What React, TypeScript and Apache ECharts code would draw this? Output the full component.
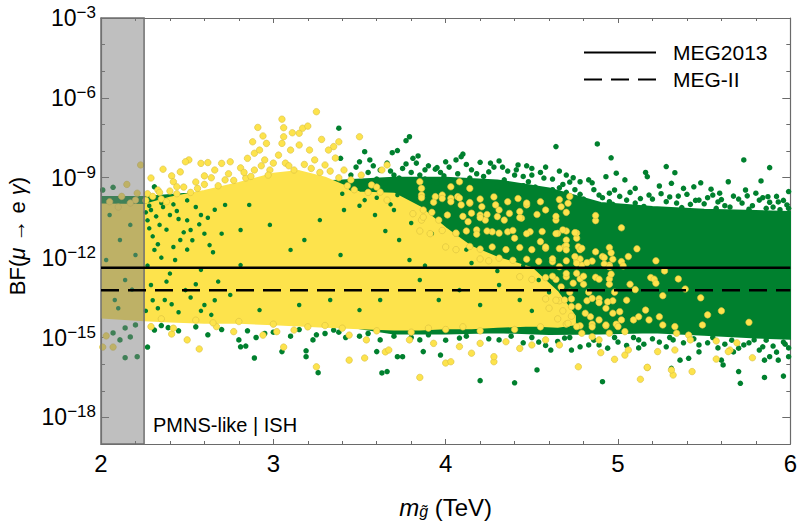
import React, { useEffect, useRef } from "react";
import * as echarts from "echarts";

const FONT = "'Liberation Sans', Arial, Helvetica, sans-serif";
const GREEN = "#00802e";
const YELLOW = "#fde34c";
const YELLOW_EDGE = "#d8c040";

// axes
const xMin = 2;
const xMax = 6;
const xStep = 1;
const yMinExp = -19;
const yMaxExp = -3;
const yMajorExps = [-18, -15, -12, -9, -6, -3];
const yMinorExps = [-19, -18, -17, -16, -15, -14, -13, -12, -11, -10, -9, -8, -7, -6, -5, -4, -3];

// excluded region and experimental limits
const bandX = [2, 2.25];
const meg2013Limit = 4.2e-13;
const megIILimit = 6e-14;
const panelLabel = "PMNS-like | ISH";
const yTitle = "{n|BF(}{i|\u03bc}{n| \u2192 e }{i|\u03b3}{n|)}";

// dense green core (log10 BF)
const greenCoreX = [2.0, 2.25, 2.5, 2.8, 3.1, 3.4, 3.7, 4.0, 4.3, 4.6, 4.9, 5.2, 5.5, 5.8, 6.0];
const greenCoreTop = [-9.72, -9.72, -9.6, -9.4, -9.2, -9.1, -9.0, -9.0, -9.1, -9.4, -9.95, -10.1, -10.2, -10.25, -10.29];
const greenCoreBottom = [-14.2, -14.2, -14.3, -14.35, -14.45, -14.55, -14.85, -14.85, -14.8, -14.87, -14.85, -14.8, -14.9, -15.0, -15.05];

// dense yellow core (log10 BF)
const yellowCoreX = [2.0, 2.25, 2.4, 2.6, 2.8, 3.0, 3.15, 3.3, 3.5, 3.7, 3.85, 4.0, 4.15, 4.3, 4.5, 4.65, 4.75];
const yellowCoreTop = [-10.0, -10.02, -9.75, -9.5, -9.2, -8.85, -8.75, -9.0, -9.55, -9.6, -10.1, -10.9, -11.6, -12.0, -12.4, -13.3, -14.2];
const yellowCoreBottom = [-14.25, -14.35, -14.4, -14.45, -14.45, -14.5, -14.55, -14.6, -14.65, -14.7, -14.7, -14.65, -14.65, -14.6, -14.55, -14.6, -14.5];

// individual green points [m_gluino (TeV), log10 BF]
const greenPoints: [number, number][] = [
  [3.79, -7.46], [3.77, -7.61], [4.64, -7.83], [4.88, -7.73], [4.96, -8.25], [5.28, -8.58], [5.33, -8.81], [5.73, -8.33],
  [5.88, -8.62], [5.99, -9.52], [5.83, -9.12], [5.64, -9.15], [5.48, -9.19], [5.16, -8.8], [5.17, -8.96], [4.1, -8.11],
  [4.09, -8.21], [4.06, -8.33], [4.2, -8.42], [4.31, -8.37], [4.42, -8.52], [4.47, -8.55], [4.5, -8.65], [3.84, -8.18],
  [3.81, -8.27], [3.77, -8.48], [3.94, -8.68], [3.95, -8.62], [4.78, -9.15], [4.83, -9.08], [4.85, -9.19], [4.93, -8.96],
  [4.99, -8.83], [5.1, -9.4], [5.04, -9.08], [5.31, -9.21], [5.38, -9.4], [5.44, -9.34], [5.54, -9.43], [5.59, -9.58],
  [5.74, -9.46], [5.8, -9.58], [5.87, -9.71], [3.38, -7.14], [3.39, -8.27], [3.53, -8.02], [3.56, -8.33], [3.5, -8.4],
  [3.69, -8.06], [3.72, -7.98], [2.31, -9.34], [2.01, -9.46], [2.07, -9.36],
  [3.85, -8.9], [3.91, -9.16], [3.99, -8.93], [4.14, -9.01], [4.25, -8.78], [4.34, -9.08], [4.4, -8.9], [4.57, -9.01],
  [4.66, -9.38], [4.72, -9.16], [4.89, -9.65], [4.98, -9.46], [5.18, -9.65], [5.24, -9.31], [5.35, -9.69], [5.47, -9.84],
  [5.58, -9.91], [5.67, -9.69], [5.82, -9.84], [5.93, -9.91], [5.98, -10.02], [5.05, -9.84], [4.59, -9.65], [4.2, -9.27],
  [4.05, -9.46], [3.73, -9.01], [3.62, -8.71], [3.65, -9.2],
  [4.7, -9.55], [4.8, -9.8], [4.95, -9.9], [5.1, -9.95], [5.28, -9.9], [5.42, -10.0], [5.52, -9.75], [5.62, -10.05],
  [5.72, -9.95], [5.9, -10.1], [4.45, -9.3], [4.3, -9.35], [4.12, -9.25], [3.95, -9.2], [3.88, -9.05],
  [4.32, -9.2], [4.38, -9.28], [4.48, -9.15], [4.52, -9.35], [4.62, -9.45], [4.68, -9.25], [4.75, -9.45], [4.78, -9.62],
  [4.86, -9.45], [4.91, -9.75], [4.95, -9.58], [5.01, -9.7], [5.07, -9.55], [5.13, -9.78], [5.2, -9.8], [5.25, -9.6],
  [5.3, -9.72], [5.34, -9.95], [5.4, -9.62], [5.45, -9.85], [5.5, -9.98], [5.55, -9.65], [5.6, -9.82], [5.65, -10.1],
  [5.7, -9.8], [5.75, -9.68], [5.78, -10.05], [5.84, -9.75], [5.88, -9.92], [5.92, -9.7], [5.96, -9.85], [5.99, -10.15],
  [5.94, -10.2], [5.86, -10.15], [5.76, -10.18], [5.57, -10.15], [5.37, -10.12], [5.15, -10.08], [4.97, -10.0], [4.83, -9.95],
  [3.45, -8.9], [3.55, -8.8], [3.6, -9.05], [3.68, -8.75], [3.75, -8.65], [3.8, -8.8], [3.9, -8.55], [3.97, -8.8],
  [4.02, -8.6], [4.07, -8.85], [4.15, -8.7], [4.22, -8.95], [4.28, -8.6], [4.36, -8.75], [4.45, -8.95], [4.55, -8.8],
  [4.62, -9.05], [4.7, -8.9], [3.5, -9.15], [3.42, -9.3],
  [3.48, -8.6], [3.58, -8.55], [3.66, -8.45], [3.7, -8.9], [3.83, -8.45], [3.88, -8.7], [4.0, -8.4], [4.12, -8.5],
  [4.18, -8.85], [4.26, -8.45], [4.33, -8.6], [4.41, -8.7], [4.5, -8.9], [4.58, -8.6], [4.66, -8.75], [4.74, -9.0],
  [2.14, -15.76], [2.21, -15.72], [2.27, -15.36], [2.31, -14.72], [2.81, -15.35], [2.84, -15.32], [2.89, -15.77], [2.8, -15.09],
  [3.05, -15.53], [3.19, -15.5], [3.19, -15.72], [3.26, -16.32], [3.23, -15.09], [3.35, -14.72], [3.6, -15.53], [3.63, -16.33],
  [3.66, -16.28], [3.72, -15.72], [4.2, -16.62], [4.4, -16.7], [4.53, -16.22], [4.91, -16.66], [5.31, -16.16], [5.7, -16.28],
  [5.71, -16.72], [5.85, -16.5], [5.96, -16.45], [5.6, -15.85], [5.61, -16.03], [5.85, -15.85], [5.88, -15.72], [5.93, -15.85],
  [5.99, -15.72], [3.97, -15.66], [4.61, -15.47], [4.73, -15.47], [5.36, -15.85], [5.41, -15.78], [3.75, -15.72], [3.87, -15.53],
  [2.11, -15.09], [2.17, -14.98], [2.14, -14.64], [2.07, -14.83], [2.2, -14.53], [2.39, -14.63],
  [2.95, -14.85], [3.42, -15.0], [3.5, -14.95], [3.3, -14.85],
  [4.89, -15.28], [5.0, -15.17], [5.12, -15.39], [5.24, -15.17], [5.47, -15.28], [5.58, -15.39], [5.73, -15.28], [5.82, -15.47],
  [5.9, -15.32], [5.99, -15.39], [5.47, -15.54], [5.67, -15.54], [5.79, -15.09], [5.96, -15.17], [4.31, -15.09], [4.08, -15.02],
  [3.85, -15.09], [3.62, -15.09], [4.54, -15.17], [4.69, -15.02], [4.83, -15.28], [5.12, -15.09], [5.32, -15.09],
  [4.5, -15.0], [4.58, -15.3], [4.65, -15.15], [4.72, -15.0], [4.78, -15.35], [4.86, -15.1], [4.94, -15.4], [4.98, -15.0],
  [5.05, -15.3], [5.09, -15.0], [5.15, -15.25], [5.2, -15.05], [5.28, -15.35], [5.3, -15.0], [5.38, -15.2], [5.44, -15.05],
  [5.52, -15.2], [5.55, -15.0], [5.62, -15.25], [5.66, -15.1], [5.76, -15.2], [5.86, -15.1], [5.92, -15.55], [5.97, -15.25],
  [5.84, -15.35], [5.7, -15.4],
  [2.35, -14.55], [2.45, -14.75], [2.55, -14.6], [2.62, -14.9], [2.7, -14.7], [2.85, -14.75], [2.9, -15.0], [3.0, -14.8],
  [3.1, -14.95], [3.15, -14.7], [3.25, -14.9], [3.38, -14.8], [3.55, -14.85], [3.7, -14.95], [3.8, -15.0], [3.9, -14.9],
  [4.0, -15.1], [4.12, -14.95], [4.25, -15.05], [4.38, -14.95], [4.45, -15.2],
];

// green points showing between the yellow ones
const greenSpecks: [number, number][] = [
  [2.29, -10.21], [2.34, -10.77], [2.4, -10.4], [2.46, -11.34], [2.52, -10.96], [2.31, -11.71], [2.43, -12.09], [2.58, -10.4],
  [2.63, -11.53], [2.72, -10.02], [2.81, -10.96], [2.29, -13.03], [2.37, -13.59], [2.49, -13.22], [2.6, -13.78], [2.75, -13.4],
  [2.92, -13.97], [3.15, -13.78], [3.33, -13.59], [3.5, -13.97], [3.62, -13.59], [2.86, -10.02], [2.98, -10.77], [3.27, -10.59],
  [3.41, -10.21], [3.53, -9.84], [3.59, -10.4], [3.7, -10.21], [3.1, -11.71], [3.39, -11.9], [3.73, -11.34], [3.79, -12.09],
  [3.85, -12.84], [3.96, -13.59], [4.08, -13.22], [4.2, -13.78], [4.31, -13.03], [4.43, -13.59], [4.54, -12.84], [2.58, -12.46],
  [2.81, -12.28], [3.18, -11.34],
  [2.05, -10.4], [2.11, -11.34], [2.17, -10.77], [2.03, -12.09], [2.14, -12.84], [2.08, -13.59], [2.2, -11.9], [2.1, -13.9], [2.18, -13.2],
  [2.27, -10.6], [2.36, -10.1], [2.45, -10.55], [2.55, -10.1], [2.66, -10.2], [2.3, -11.2], [2.5, -11.7], [2.4, -12.6],
  [2.55, -13.0], [2.68, -12.9], [2.7, -11.1], [3.65, -11.0], [3.8, -10.7], [3.92, -11.1], [4.0, -11.6], [4.15, -12.2],
  [4.3, -12.5], [4.12, -11.7], [3.88, -12.3], [4.45, -12.3], [4.6, -13.3], [4.5, -14.0],
  [2.26, -10.3], [2.28, -10.9], [2.32, -10.45], [2.33, -11.5], [2.38, -10.95], [2.42, -11.6], [2.44, -10.25], [2.48, -11.05],
  [2.5, -10.6], [2.53, -11.35], [2.57, -10.75], [2.6, -11.1], [2.62, -10.5], [2.65, -11.8], [2.27, -12.3], [2.35, -12.0],
  [2.3, -13.6], [2.33, -13.9], [2.41, -13.75], [2.45, -14.05], [2.52, -13.5], [2.58, -14.0], [2.66, -13.6], [2.64, -14.15],
  [2.26, -14.0], [2.38, -12.9], [3.4, -9.6], [3.45, -9.4], [3.55, -9.5], [3.6, -9.75], [3.65, -9.45], [3.68, -10.0],
  [3.5, -10.05], [3.72, -9.65], [2.28, -10.05], [2.35, -9.95], [2.42, -10.0], [2.5, -9.85],
];

// individual yellow points [m_gluino (TeV), log10 BF]
const yellowPoints: [number, number][] = [
  [3.25, -6.52], [3.05, -6.8], [2.91, -7.11], [3.06, -7.12], [3.11, -7.31], [3.15, -7.33], [3.17, -7.14], [3.2, -7.06],
  [2.94, -7.43], [2.88, -7.65], [2.96, -7.71], [3.06, -7.46], [3.05, -7.71], [3.28, -7.56], [3.35, -7.83], [3.38, -7.65],
  [3.32, -7.96], [3.5, -7.46], [2.51, -8.33], [2.49, -8.4], [2.36, -8.68], [2.41, -8.93], [2.42, -9.15], [2.58, -8.46],
  [2.62, -8.43], [2.7, -8.46], [2.75, -8.4], [2.85, -8.27], [2.89, -8.08], [2.92, -7.96], [2.23, -8.52], [2.15, -9.25],
  [2.2, -9.84], [2.21, -9.58], [2.44, -9.34],
  [2.29, -9.01], [2.33, -9.46], [2.46, -8.78], [2.55, -9.16], [2.66, -8.71], [2.72, -9.08], [2.81, -8.63], [2.84, -9.01],
  [2.95, -8.33], [2.98, -8.71], [3.03, -8.15], [3.1, -7.96], [3.15, -7.77], [3.21, -7.96], [3.24, -8.33], [3.3, -8.52],
  [3.36, -8.26], [3.41, -8.71], [3.45, -9.08], [3.51, -8.9], [3.57, -9.27], [3.62, -9.54], [3.66, -9.84], [3.07, -8.45],
  [3.12, -8.71], [2.89, -8.71], [2.6, -8.93], [2.27, -9.6], [2.35, -9.8], [2.52, -9.55], [2.4, -9.5],
  [2.05, -9.9], [2.12, -9.7], [2.17, -9.95], [2.1, -10.1],
  [2.26, -9.85], [2.3, -9.7], [2.34, -9.55], [2.38, -9.9], [2.44, -9.6], [2.48, -9.35], [2.56, -9.4], [2.6, -9.25],
  [2.64, -9.0], [2.68, -9.3], [2.74, -8.85], [2.77, -9.1], [2.83, -8.8], [2.87, -8.95], [2.93, -8.55], [2.97, -8.9],
  [3.0, -8.45], [3.09, -8.55], [3.18, -8.5], [3.22, -8.65], [3.27, -8.8], [3.33, -8.75], [3.38, -9.0], [3.43, -9.3],
  [3.47, -9.45], [3.55, -9.55], [3.6, -9.35],
  [3.86, -9.65], [3.94, -9.71], [3.98, -9.65], [4.03, -9.77], [4.09, -10.02], [4.14, -9.96], [4.21, -10.09], [4.29, -10.02],
  [4.31, -10.21], [4.43, -10.27], [4.47, -10.02], [4.55, -9.9], [4.58, -10.21], [4.67, -10.09], [4.71, -9.96], [4.87, -10.61],
  [5.02, -10.88], [5.11, -11.67], [3.87, -10.21], [3.86, -10.59], [3.96, -10.59], [4.01, -10.4], [4.06, -11.09], [4.13, -10.65],
  [4.2, -10.4], [4.18, -10.96], [4.23, -10.59], [4.27, -11.03], [4.34, -10.59], [4.36, -11.03], [4.4, -11.27], [4.44, -10.52],
  [4.49, -11.03], [4.55, -11.4], [4.58, -11.65], [4.64, -10.59], [4.65, -11.09], [4.69, -11.59], [4.7, -11.34], [4.76, -11.27],
  [4.77, -11.59], [4.87, -11.78], [4.91, -11.96], [4.76, -12.09], [4.79, -12.28], [4.62, -12.15], [4.66, -12.34], [4.95, -12.28],
  [5.02, -12.15], [5.06, -11.96], [3.66, -8.52], [3.63, -8.71], [3.85, -9.15], [3.86, -9.4], [4.03, -9.34], [4.08, -9.15],
  [4.14, -9.4], [4.07, -9.71],
  [3.86, -9.75], [3.93, -9.92], [3.98, -9.78], [4.03, -9.9], [4.08, -9.76], [4.14, -9.93], [4.2, -9.8], [4.28, -9.72],
  [4.36, -9.9], [4.42, -9.78], [4.47, -9.95], [4.66, -9.82], [4.72, -9.7],
  [3.81, -10.35], [3.87, -10.48], [3.92, -10.3], [4.1, -10.45], [4.15, -10.33], [4.2, -10.5], [4.24, -10.38], [4.3, -10.46],
  [4.37, -10.34], [4.43, -10.5], [4.53, -10.38], [4.64, -10.45], [4.7, -10.3], [4.87, -10.42],
  [3.85, -11.0], [3.91, -11.1], [3.98, -10.98], [4.06, -11.08], [4.12, -11.0], [4.18, -11.12], [4.24, -11.0], [4.31, -11.08],
  [4.39, -10.98], [4.47, -11.1], [4.56, -11.02], [4.64, -11.1], [4.7, -11.0], [4.76, -11.08],
  [4.0, -11.6], [4.06, -11.7], [4.14, -11.58], [4.2, -11.68], [4.27, -11.6], [4.35, -11.7], [4.43, -11.62], [4.5, -11.7],
  [4.58, -11.6], [4.66, -11.66], [4.7, -11.55], [4.78, -11.7], [4.95, -11.62],
  [4.2, -12.05], [4.25, -12.12], [4.31, -12.02], [4.39, -12.1], [4.47, -12.06], [4.54, -12.14], [4.62, -12.04], [4.7, -12.12],
  [4.78, -12.05], [4.85, -12.13], [4.97, -12.06],
  [4.43, -12.72], [4.5, -12.82], [4.58, -12.75], [4.64, -12.82], [4.7, -12.72], [4.78, -12.8], [4.87, -12.74], [4.95, -12.8],
  [4.58, -13.55], [4.66, -13.62], [4.73, -13.55], [4.82, -13.62], [4.89, -13.55], [4.97, -13.62],
  [4.7, -14.5], [4.78, -14.56], [4.85, -14.5], [4.93, -14.56], [4.99, -14.5],
  [4.68, -10.96], [4.75, -11.06], [4.79, -11.65], [4.7, -11.71], [4.96, -11.82], [4.92, -12.0], [4.92, -12.24], [4.95, -12.34],
  [4.96, -12.62], [5.03, -12.31], [5.22, -12.12], [5.27, -12.5], [5.19, -12.75], [5.21, -12.81], [5.22, -12.96], [5.07, -13.0],
  [4.95, -13.0], [4.89, -12.81], [4.82, -12.19], [4.75, -11.96], [4.76, -12.21], [4.76, -12.59], [4.74, -12.96], [5.35, -12.8],
  [5.39, -13.18], [5.26, -13.43], [5.48, -13.51], [5.6, -14.0], [5.52, -14.15], [5.76, -14.43], [5.69, -15.2], [5.78, -15.76],
  [5.57, -15.81], [5.43, -16.28], [5.32, -16.41], [4.77, -16.1], [5.17, -16.13],
  [4.85, -13.53], [4.89, -13.69], [4.94, -13.66], [4.93, -13.9], [4.97, -14.09], [5.01, -14.03], [5.02, -14.34], [5.0, -14.59],
  [4.93, -14.53], [4.89, -14.34], [4.84, -14.22], [4.81, -14.09], [4.77, -13.84], [4.73, -13.84], [4.69, -13.59], [4.71, -14.47],
  [4.76, -14.59], [4.79, -14.84], [4.85, -14.97], [4.89, -15.09], [4.95, -14.84], [5.04, -14.78], [5.09, -14.34], [5.12, -14.22],
  [5.16, -13.97], [5.18, -14.34], [5.24, -14.22], [5.26, -14.53], [5.33, -14.59], [5.34, -14.84], [5.41, -14.91], [5.42, -15.09],
  [5.49, -14.53], [5.57, -15.13], [5.65, -15.47],
  [4.62, -12.7], [4.67, -13.1], [4.7, -12.6], [4.64, -13.6], [4.68, -14.0], [4.72, -13.3], [4.8, -13.0], [4.83, -13.3],
  [4.8, -12.7], [4.65, -14.3], [4.85, -14.6], [4.98, -13.3], [5.05, -13.6], [5.1, -13.2], [4.73, -14.2], [4.6, -13.9],
  [3.85, -16.5], [4.0, -15.96], [4.03, -15.91], [4.28, -15.91], [4.28, -15.72], [4.15, -15.59], [4.9, -15.57], [4.98, -15.82],
  [5.04, -15.66], [5.06, -15.47], [5.13, -16.57], [5.17, -16.12], [5.31, -16.22], [5.64, -15.53], [5.23, -15.53], [5.33, -15.47],
  [2.01, -15.36], [2.07, -15.36], [2.03, -14.94], [2.41, -14.87], [2.5, -15.09], [2.57, -15.43], [2.94, -14.91], [3.06, -15.36],
  [3.25, -16.1], [3.44, -15.85], [3.53, -15.77], [3.65, -15.54], [3.12, -14.72],
  [2.29, -14.59], [2.42, -14.65], [2.67, -14.59], [2.77, -14.78], [3.02, -14.78], [3.44, -14.91], [3.54, -15.09], [3.67, -15.47],
  [3.79, -15.09], [3.93, -15.22], [4.08, -15.34], [4.2, -15.22], [4.35, -15.16], [4.43, -15.41], [4.5, -15.28], [4.58, -15.09],
  [4.66, -15.28],
  [2.35, -14.3], [2.55, -14.35], [2.8, -14.4], [3.0, -14.5], [3.2, -14.6], [3.4, -14.65], [3.6, -14.75], [3.8, -14.8],
  [4.0, -14.7], [4.2, -14.75], [4.4, -14.7], [4.55, -14.6], [2.65, -14.45], [3.3, -14.55], [3.9, -14.65], [4.1, -14.6],
];

const pow10 = (e: number) => parseFloat(`1e${e}`);
const toXY = (p: [number, number]) => [p[0], Math.pow(10, p[1])];

function envelopeSeries(name: string, xs: number[], top: number[], bottom: number[], color: string, z: number) {
  return {
    type: "custom",
    name,
    z,
    silent: true,
    clip: true,
    xAxisIndex: 0,
    yAxisIndex: 0,
    data: [[xs[0], Math.pow(10, top[0])]],
    renderItem: (_params: any, api: any) => {
      const pts: number[][] = [];
      for (let i = 0; i < xs.length; i++) pts.push(api.coord([xs[i], Math.pow(10, top[i])]));
      for (let i = xs.length - 1; i >= 0; i--) pts.push(api.coord([xs[i], Math.pow(10, bottom[i])]));
      return {
        type: "polygon",
        shape: { points: pts },
        style: { fill: color, stroke: color, lineWidth: 2, lineJoin: "round" },
      };
    },
  };
}

const supLabel = (v: number) => {
  const e = Math.round(Math.log10(v));
  return `{b|10}{s|${e < 0 ? "\u2212" : ""}${Math.abs(e)}}`;
};

export default function App() {
  const ref = useRef<HTMLDivElement>(null);

  useEffect(() => {
    if (!ref.current) return;
    const chart = echarts.init(ref.current, undefined, { renderer: "svg" });
    const axisColor = "#6a6a6a";
    const majorY = yMajorExps.map(pow10);
    const minorY = yMinorExps.map(pow10);

    const xAxisBase = {
      type: "value",
      min: xMin,
      max: xMax,
      interval: xStep,
      splitLine: { show: false },
      axisLine: { show: true, onZero: false, lineStyle: { color: axisColor, width: 1.2 } },
      axisTick: { show: true, inside: true, length: 5, lineStyle: { color: axisColor, width: 1 } },
      minorTick: { show: true, splitNumber: 5, length: 3, lineStyle: { color: axisColor, width: 1 } },
      minorSplitLine: { show: false },
    };
    const yAxisBase = {
      type: "log",
      logBase: 10,
      min: pow10(yMinExp),
      max: pow10(yMaxExp),
      splitLine: { show: false },
      minorTick: { show: false },
      minorSplitLine: { show: false },
    };

    const option: any = {
      animation: false,
      backgroundColor: "#ffffff",
      grid: { left: 101, right: 8, top: 18, bottom: 82, containLabel: false },
      xAxis: [
        {
          ...xAxisBase,
          position: "bottom",
          axisLabel: { fontSize: 24, color: "#000", fontFamily: FONT, margin: 7 },
          name: "{mi|m}{sub|g\u0303}{n| (TeV)}",
          nameLocation: "middle",
          nameGap: 37,
          nameTextStyle: {
            color: "#000",
            rich: {
              mi: { fontSize: 24, fontStyle: "italic", fontFamily: FONT, color: "#000" },
              sub: { fontSize: 16, fontStyle: "italic", fontFamily: FONT, color: "#000", lineHeight: 16, padding: [24, 0, 0, 0], verticalAlign: "bottom" },
              n: { fontSize: 24, fontFamily: FONT, color: "#000" },
            },
          },
        },
        { ...xAxisBase, position: "top", axisLabel: { show: false } },
      ],
      yAxis: [
        {
          ...yAxisBase,
          position: "left",
          axisLine: { show: true, onZero: false, lineStyle: { color: axisColor, width: 1.2 } },
          axisTick: { show: true, inside: true, length: 8, customValues: majorY, lineStyle: { color: axisColor } },
          axisLabel: {
            show: true,
            customValues: majorY,
            margin: 5,
            formatter: supLabel,
            rich: {
              b: { fontSize: 23, lineHeight: 28, fontFamily: FONT, color: "#000" },
              s: { fontSize: 17, lineHeight: 17, verticalAlign: "top", fontFamily: FONT, color: "#000" },
            },
          },
        },
        {
          ...yAxisBase,
          position: "left",
          axisLine: { show: false },
          axisTick: { show: true, inside: true, length: 4, customValues: minorY, lineStyle: { color: axisColor } },
          axisLabel: { show: false },
        },
        {
          ...yAxisBase,
          position: "right",
          axisLine: { show: true, onZero: false, lineStyle: { color: axisColor, width: 1.2 } },
          axisTick: { show: true, inside: true, length: 8, customValues: majorY, lineStyle: { color: axisColor } },
          axisLabel: { show: false },
        },
        {
          ...yAxisBase,
          position: "right",
          axisLine: { show: false },
          axisTick: { show: true, inside: true, length: 4, customValues: minorY, lineStyle: { color: axisColor } },
          axisLabel: { show: false },
        },
      ],
      legend: {
        data: ["MEG2013", "MEG-II"],
        orient: "vertical",
        left: 578,
        top: 37,
        itemWidth: 72,
        itemHeight: 14,
        itemGap: 6,
        selectedMode: false,
        itemStyle: { opacity: 0 },
        textStyle: { fontSize: 21, fontFamily: FONT, color: "#000", padding: [0, 0, 0, 12] },
      },
      graphic: [
        {
          type: "text",
          left: 153,
          top: 415,
          z: 100,
          style: { text: panelLabel, fontSize: 20, fontFamily: FONT, fill: "#000" },
        },
        {
          type: "text",
          x: 17,
          y: 236,
          rotation: Math.PI / 2,
          z: 100,
          style: {
            text: yTitle,
            align: "center",
            verticalAlign: "middle",
            fill: "#000",
            rich: {
              n: { fontSize: 22, fontFamily: FONT, fill: "#000" },
              i: { fontSize: 22, fontStyle: "italic", fontFamily: FONT, fill: "#000" },
            },
          },
        },
      ],
      series: [
        envelopeSeries("green core", greenCoreX, greenCoreTop, greenCoreBottom, GREEN, 2),
        {
          type: "scatter",
          name: "green",
          z: 3,
          silent: true,
          symbolSize: 5.5,
          itemStyle: { color: GREEN, opacity: 1 },
          data: greenPoints.map(toXY),
        },
        envelopeSeries("yellow core", yellowCoreX, yellowCoreTop, yellowCoreBottom, YELLOW, 4),
        {
          type: "scatter",
          name: "green specks",
          z: 5,
          silent: true,
          symbolSize: 4.5,
          itemStyle: { color: GREEN, opacity: 1 },
          data: greenSpecks.map(toXY),
        },
        {
          type: "scatter",
          name: "yellow",
          z: 6,
          silent: true,
          symbolSize: 6.5,
          itemStyle: { color: YELLOW, borderColor: YELLOW_EDGE, borderWidth: 0.6, opacity: 1 },
          data: yellowPoints.map(toXY),
        },
        {
          type: "custom",
          name: "band",
          z: 7,
          silent: true,
          data: [[bandX[0], pow10(-12)]],
          renderItem: (_p: any, api: any) => {
            const a = api.coord([bandX[0], pow10(yMaxExp)]);
            const b = api.coord([bandX[1], pow10(yMinExp)]);
            return {
              type: "rect",
              shape: { x: a[0], y: a[1], width: b[0] - a[0], height: b[1] - a[1] },
              style: { fill: "rgba(128,128,128,0.5)", stroke: "#707070", lineWidth: 1.5 },
            };
          },
        },
        {
          type: "line",
          name: "MEG2013",
          z: 8,
          silent: true,
          symbol: "none",
          lineStyle: { color: "#000", width: 2.5, type: "solid" },
          itemStyle: { color: "#000" },
          data: [[xMin, meg2013Limit], [xMax, meg2013Limit]],
        },
        {
          type: "line",
          name: "MEG-II",
          z: 8,
          silent: true,
          symbol: "none",
          lineStyle: { color: "#000", width: 2.5, type: [18, 9] },
          itemStyle: { color: "#000" },
          data: [[xMin, megIILimit], [xMax, megIILimit]],
        },
      ],
    };

    chart.setOption(option);
    return () => chart.dispose();
  }, []);

  return (
    <div
      ref={ref}
      style={{ position: "absolute", left: 0, top: 0, width: "800px", height: "526px", background: "#fff" }}
    />
  );
}
